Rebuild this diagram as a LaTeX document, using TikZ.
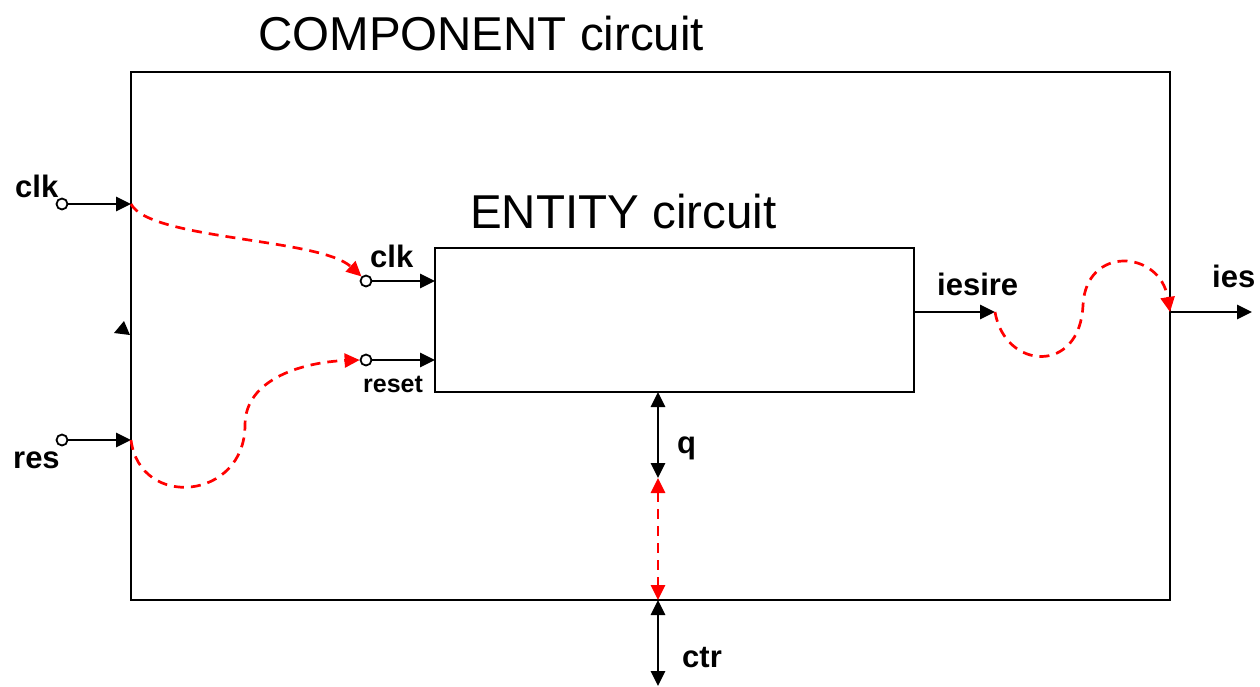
\documentclass[tikz,border=0pt]{standalone}
\usepackage{fontspec}
\setmainfont{Liberation Sans}
\usetikzlibrary{arrows.meta}
\begin{document}
\begin{tikzpicture}[x=1pt,y=-1pt,
  wire/.style={line width=2.7pt,-{Triangle[length=15pt,width=14pt]}},
  bothwire/.style={line width=2.7pt,{Triangle[length=15pt,width=14pt]}-{Triangle[length=15pt,width=14pt]}},
  pin/.style={circle,draw,fill=white,inner sep=0pt,minimum size=11pt,line width=1.8pt},
  redflow/.style={red,line width=2.7pt,dash pattern=on 10pt off 7pt,-{Triangle[length=15pt,width=14pt]}},
  redboth/.style={red,line width=2.7pt,dash pattern=on 10pt off 7pt,{Triangle[length=15pt,width=14pt]}-{Triangle[length=15pt,width=14pt]}},
  box/.style={draw,line width=2pt,inner sep=0pt},
  lbl/.style={font=\bfseries\fontsize{31}{31}\selectfont,anchor=base west,inner sep=0pt},
  slbl/.style={font=\bfseries\fontsize{25}{25}\selectfont,anchor=base west,inner sep=0pt},
  title/.style={font=\fontsize{47.5}{48}\selectfont,anchor=base west,inner sep=0pt}]
\useasboundingbox (0,0) rectangle (1260,686);
% boxes
\node[box,minimum width=1039pt,minimum height=528pt] (comp) at (650.5,336) {};
\node[box,minimum width=479pt,minimum height=144pt] (ent) at (674.5,320) {};
\node[title] (tcomp) at (258,50) {COMPONENT circuit};
\node[title] (tent) at (470,228) {ENTITY circuit};
% edge coordinates
\coordinate (cclk) at (131,204);
\coordinate (cres) at (131,440);
\coordinate (eclk) at (435,281);
\coordinate (eres) at (435,360);
\coordinate (eout) at (914,312);
\coordinate (eoutend) at (995,312);
\coordinate (cout) at (1170,312);
\coordinate (coutend) at (1252,312);
\coordinate (ebot) at (658,392);
\coordinate (qend) at (658,478);
\coordinate (cbot) at (658,600);
\coordinate (ctrend) at (658,686);
% pins
\node[pin] (pclk) at (62,204) {};
\node[pin] (pres) at (62,440) {};
\node[pin] (piclk) at (366,281) {};
\node[pin] (pires) at (366,360) {};
% wires
\draw[wire] (pclk) -- (cclk);
\draw[wire] (pres) -- (cres);
\draw[wire] (piclk) -- (eclk);
\draw[wire] (pires) -- (eres);
\draw[wire] (eout) -- (eoutend);
\draw[wire] (cout) -- (coutend);
\draw[bothwire] (ebot) -- (qend);
\draw[bothwire] (cbot) -- (ctrend);
% red flows
\draw[redflow] (cclk) .. controls (150,240) and (320,238) .. (piclk.north west);
\draw[redflow] (cres) .. controls (140,510) and (245,500) .. (245,425) .. controls (245,378) and (305,362) .. (pires.west);
\draw[redflow] (eoutend) .. controls (1005,370) and (1080,375) .. (1083,305) .. controls (1086,245) and (1160,250) .. (cout);
\draw[redboth] (qend) -- (cbot);
% stray arrowhead on left edge
\fill (124,321) -- (114,333) -- (130,335) -- cycle;
% labels
\node[lbl] (lclk) at (15,197) {clk};
\node[lbl] (lres) at (13,468) {res};
\node[lbl] (liclk) at (370,267) {clk};
\node[slbl] (lreset) at (363,392) {reset};
\node[lbl] (liesire) at (937,295) {iesire};
\node[lbl] (lies) at (1212,287) {ies};
\node[lbl] (lq) at (677,453) {q};
\node[lbl] (lctr) at (682,667) {ctr};
\end{tikzpicture}
\end{document}
